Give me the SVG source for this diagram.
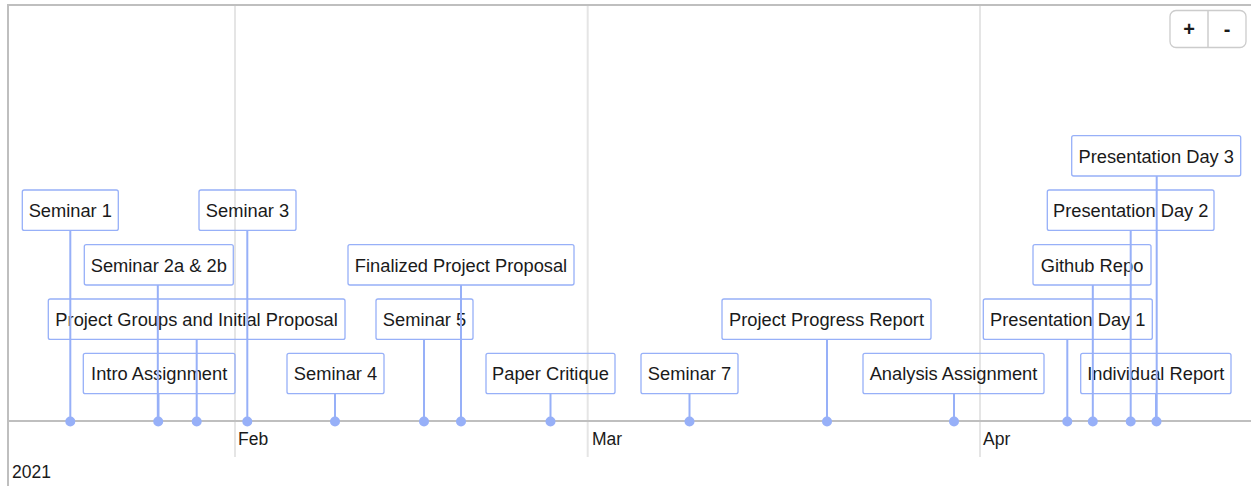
<svg xmlns="http://www.w3.org/2000/svg" width="1251" height="486" viewBox="0 0 1251 486">
  <style>
    .frame { stroke: #bfbfbf; stroke-width: 2; fill: none; }
    .grid { stroke: #e5e5e5; stroke-width: 2; }
    .axis { stroke: #bfbfbf; stroke-width: 2; }
    .box { fill: none; stroke: #97b0f8; stroke-width: 1.3; }
    .stem { stroke: #97b0f8; stroke-width: 2; }
    .dot { fill: #97b0f8; }
    .label { font-family: "Liberation Sans", Arial, sans-serif; font-size: 18.3px; fill: #1a1a1a; text-anchor: middle; }
    .tick { font-family: "Liberation Sans", Arial, sans-serif; font-size: 17.5px; fill: #1a1a1a; }
    .btn { fill: #ffffff; stroke: #cccccc; stroke-width: 1.3; }
    .btntxt { font-family: "Liberation Sans", Arial, sans-serif; font-size: 20px; font-weight: bold; fill: #1a1a1a; text-anchor: middle; }
  </style>

  <rect width="1251" height="486" fill="#ffffff"/>

  <!-- timeline panel frame -->
  <g id="frame">
    <line class="frame" x1="8" y1="5" x2="1251" y2="5"/>
    <line class="frame" x1="8" y1="4" x2="8" y2="486"/>
  </g>

  <!-- month gridlines and axis -->
  <g id="grid">
    <line class="grid" x1="235" y1="6" x2="235" y2="457"/>
    <line class="grid" x1="587.7" y1="6" x2="587.7" y2="457"/>
    <line class="grid" x1="980" y1="6" x2="980" y2="457"/>
    <line class="axis" x1="9" y1="421" x2="1251" y2="421"/>
    <text class="tick" x="238" y="445">Feb</text>
    <text class="tick" x="592" y="445">Mar</text>
    <text class="tick" x="983" y="445">Apr</text>
    <text class="tick" x="12" y="478">2021</text>
  </g>

  <!-- zoom controls -->
  <g id="zoom-controls">
    <rect class="btn" x="1170" y="10.5" width="76" height="37" rx="6"/>
    <line x1="1208" y1="11" x2="1208" y2="47" stroke="#cccccc" stroke-width="1.5"/>
    <text class="btntxt" x="1189" y="36">+</text>
    <text class="btntxt" x="1227" y="36">-</text>
  </g>

  <!-- item boxes -->
  <g id="item-seminar-1"><rect class="box" x="22.3" y="190" width="96" height="40.4" rx="2"/><text class="label" x="70.3" y="217">Seminar 1</text></g>
  <g id="item-seminar-3"><rect class="box" x="199" y="190" width="97" height="40.4" rx="2"/><text class="label" x="247.5" y="217">Seminar 3</text></g>
  <g id="item-presentation-day-2"><rect class="box" x="1047.3" y="190" width="166.7" height="40.4" rx="2"/><text class="label" x="1130.7" y="217">Presentation Day 2</text></g>
  <g id="item-presentation-day-3"><rect class="box" x="1071.7" y="135.6" width="169" height="40.4" rx="2"/><text class="label" x="1156.2" y="162.6">Presentation Day 3</text></g>
  <g id="item-seminar-2"><rect class="box" x="84.3" y="244.6" width="149" height="40.4" rx="2"/><text class="label" x="158.8" y="271.6">Seminar 2a &amp; 2b</text></g>
  <g id="item-finalized-proposal"><rect class="box" x="348" y="244.6" width="226" height="40.4" rx="2"/><text class="label" x="461" y="271.6">Finalized Project Proposal</text></g>
  <g id="item-github-repo"><rect class="box" x="1033" y="244.6" width="118" height="40.4" rx="2"/><text class="label" x="1092" y="271.6">Github Repo</text></g>
  <g id="item-project-groups"><rect class="box" x="48.3" y="299" width="296.7" height="40.4" rx="2"/><text class="label" x="196.6" y="326">Project Groups and Initial Proposal</text></g>
  <g id="item-seminar-5"><rect class="box" x="376" y="299" width="97" height="40.4" rx="2"/><text class="label" x="424.5" y="326">Seminar 5</text></g>
  <g id="item-progress-report"><rect class="box" x="722" y="299" width="209" height="40.4" rx="2"/><text class="label" x="826.5" y="326">Project Progress Report</text></g>
  <g id="item-presentation-day-1"><rect class="box" x="983.3" y="299" width="169" height="40.4" rx="2"/><text class="label" x="1067.8" y="326">Presentation Day 1</text></g>
  <g id="item-intro-assignment"><rect class="box" x="83.3" y="353.3" width="151.7" height="40.4" rx="2"/><text class="label" x="159.2" y="380.3">Intro Assignment</text></g>
  <g id="item-seminar-4"><rect class="box" x="287" y="353.3" width="97" height="40.4" rx="2"/><text class="label" x="335.5" y="380.3">Seminar 4</text></g>
  <g id="item-paper-critique"><rect class="box" x="486" y="353.3" width="129" height="40.4" rx="2"/><text class="label" x="550.5" y="380.3">Paper Critique</text></g>
  <g id="item-seminar-7"><rect class="box" x="641" y="353.3" width="97" height="40.4" rx="2"/><text class="label" x="689.5" y="380.3">Seminar 7</text></g>
  <g id="item-analysis-assignment"><rect class="box" x="863" y="353.3" width="181" height="40.4" rx="2"/><text class="label" x="953.5" y="380.3">Analysis Assignment</text></g>
  <g id="item-individual-report"><rect class="box" x="1080.7" y="353.3" width="150.3" height="40.4" rx="2"/><text class="label" x="1155.8" y="380.3">Individual Report</text></g>

  <!-- stems from each box down to its date on the axis -->
  <g id="connectors">
    <line class="stem" x1="70.3" y1="230.4" x2="70.3" y2="421"/>
    <line class="stem" x1="247.3" y1="230.4" x2="247.3" y2="421"/>
    <line class="stem" x1="1130.7" y1="230.4" x2="1130.7" y2="421"/>
    <line class="stem" x1="1156.7" y1="176" x2="1156.7" y2="421"/>
    <line class="stem" x1="157.8" y1="285" x2="157.8" y2="421"/>
    <line class="stem" x1="461" y1="285" x2="461" y2="421"/>
    <line class="stem" x1="1092.8" y1="285" x2="1092.8" y2="421"/>
    <line class="stem" x1="196.7" y1="339.4" x2="196.7" y2="421"/>
    <line class="stem" x1="424" y1="339.4" x2="424" y2="421"/>
    <line class="stem" x1="827" y1="339.4" x2="827" y2="421"/>
    <line class="stem" x1="1067.3" y1="339.4" x2="1067.3" y2="421"/>
    <line class="stem" x1="158.5" y1="393.7" x2="158.5" y2="421"/>
    <line class="stem" x1="335" y1="393.7" x2="335" y2="421"/>
    <line class="stem" x1="550.5" y1="393.7" x2="550.5" y2="421"/>
    <line class="stem" x1="689.5" y1="393.7" x2="689.5" y2="421"/>
    <line class="stem" x1="954" y1="393.7" x2="954" y2="421"/>
    <line class="stem" x1="1156" y1="393.7" x2="1156" y2="421"/>
    <circle class="dot" cx="70.3" cy="421.5" r="5"/>
    <circle class="dot" cx="158.2" cy="421.5" r="5"/>
    <circle class="dot" cx="196.7" cy="421.5" r="5"/>
    <circle class="dot" cx="247.3" cy="421.5" r="5"/>
    <circle class="dot" cx="335" cy="421.5" r="5"/>
    <circle class="dot" cx="424" cy="421.5" r="5"/>
    <circle class="dot" cx="461" cy="421.5" r="5"/>
    <circle class="dot" cx="550.5" cy="421.5" r="5"/>
    <circle class="dot" cx="689.5" cy="421.5" r="5"/>
    <circle class="dot" cx="827" cy="421.5" r="5"/>
    <circle class="dot" cx="954" cy="421.5" r="5"/>
    <circle class="dot" cx="1067.3" cy="421.5" r="5"/>
    <circle class="dot" cx="1092.8" cy="421.5" r="5"/>
    <circle class="dot" cx="1130.7" cy="421.5" r="5"/>
    <circle class="dot" cx="1156.5" cy="421.5" r="5"/>
  </g>
</svg>
